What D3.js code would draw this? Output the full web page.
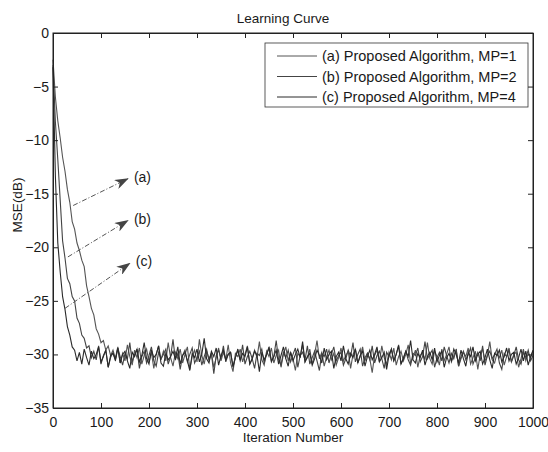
<!DOCTYPE html>
<html>
<head>
<meta charset="utf-8">
<script src="https://cdn.jsdelivr.net/npm/d3@7"></script>
<style>
  body { margin: 0; background: #fff; }
  text { font-family: "Liberation Sans", Arial, sans-serif; fill: #1a1a1a; }
</style>
</head>
<body>
<div id="chart"></div>
<script>
const step = 5;

const seriesA = [
  -2.5, -6.0, -8.2, -9.8, -11.6, -12.9, -14.6, -15.8, -17.6, -18.3, -19.6, -20.3, -21.2, -21.8, -23.6, -24.6, -25.7, -26.3, -27.6, -28.1,
  -28.9, -28.7, -29.6, -29.2, -30.1, -29.6,
  -30.4, -29.3, -30.8, -29.9, -30.6, -29.1, -30.2, -31.0, -29.6, -30.3, -29.4, -30.9, -30.1, -29.5, -30.7, -29.8, -31.3, -30.0, -29.2, -30.5,
  -29.7, -30.6, -28.9, -30.3, -31.1, -29.8, -30.4, -29.5, -30.8, -30.0, -29.3, -31.4, -30.2, -29.6, -30.7, -28.6, -30.1, -30.9, -29.7, -30.4,
  -29.9, -31.2, -30.3, -29.4, -30.6, -29.8, -30.5, -29.1, -30.8, -31.6, -29.9, -30.2, -29.5, -30.7, -30.0, -29.2, -30.9, -30.4, -29.6, -30.3,
  -28.8, -30.5, -31.0, -29.7, -30.2, -29.4, -30.8, -30.1, -29.6, -31.2, -30.0, -29.3, -30.6, -29.8, -30.4, -31.5, -29.9, -30.2, -29.1, -30.7,
  -30.3, -29.5, -30.9, -30.0, -28.7, -30.4, -29.8, -31.1, -30.2, -29.6, -30.5, -29.9, -31.0, -30.3, -29.4, -30.6, -30.1, -29.7, -31.3, -30.0,
  -29.5, -30.8, -30.2, -29.3, -30.6, -29.9, -30.4, -31.7, -30.1, -29.6, -30.7, -29.2, -30.3, -30.9, -29.8, -30.5, -29.4, -31.0, -30.2, -29.7,
  -30.6, -30.0, -29.1, -30.8, -30.3, -29.6, -31.2, -30.1, -29.8, -30.5, -28.9, -30.4, -30.9, -29.7, -30.2, -31.0, -29.5, -30.6, -30.0, -29.3,
  -30.7, -30.1, -29.6, -31.1, -30.4, -29.8, -30.2, -29.4, -30.9, -30.3, -29.7, -31.4, -30.0, -29.5, -30.6, -30.1, -28.8, -30.5, -30.8, -29.9,
  -30.3, -29.6, -31.0, -30.2, -29.4, -30.7, -30.0, -29.8, -31.2, -30.4, -29.5, -30.6, -29.9, -30.3, -29.7
];

const seriesB = [
  -3.0, -8.3, -11.8, -15.6, -19.4, -21.0, -22.9, -23.4, -24.6, -25.0, -26.6, -27.1, -28.2, -28.5, -29.4, -29.2, -30.3,
  -29.7, -30.5, -29.2, -30.9, -30.1, -29.6, -31.2, -30.3, -29.8, -30.6, -29.4, -30.2, -31.0, -29.9, -30.4, -28.9, -30.7, -30.0, -29.5, -31.3,
  -30.2, -29.7, -30.8, -30.1, -29.3, -30.6, -31.1, -29.8, -30.4, -30.0, -29.5, -30.9, -30.2, -28.6, -30.5, -29.9, -31.4, -30.1, -29.6, -30.7,
  -30.0, -29.4, -30.8, -30.3, -29.7, -31.0, -30.2, -29.5, -30.6, -29.9, -31.8, -30.1, -29.6, -30.4, -29.2, -30.7, -30.0, -29.8, -31.1, -30.3,
  -29.6, -30.5, -29.1, -30.9, -30.2, -29.7, -30.4, -31.3, -29.9, -30.1, -29.5, -30.8, -30.0, -29.3, -30.6, -30.2, -28.7, -30.5, -31.0, -29.8,
  -30.3, -29.6, -30.7, -30.0, -29.4, -31.2, -30.1, -29.8, -30.5, -29.2, -30.9, -30.3, -29.7, -30.6, -31.5, -29.9, -30.2, -29.5, -30.8, -30.0,
  -29.3, -30.6, -30.1, -29.8, -31.0, -30.4, -29.6, -30.2, -28.9, -30.7, -30.0, -29.5, -31.1, -30.3, -29.9, -30.5, -29.2, -30.8, -30.1, -29.7,
  -30.4, -31.3, -29.8, -30.2, -29.5, -30.6, -30.0, -29.1, -30.9, -30.3, -29.7, -30.5, -31.0, -29.9, -30.1, -29.4, -30.7, -30.2, -28.8, -30.4,
  -30.0, -29.6, -31.2, -30.3, -29.8, -30.6, -29.3, -30.1, -30.8, -29.9, -30.4, -29.5, -31.1, -30.2, -29.7, -30.5, -30.0, -29.4, -30.9, -30.3,
  -29.8, -30.6, -29.2, -31.0, -30.1, -29.7, -30.4, -30.0, -29.5, -30.8, -31.4, -29.9, -30.2, -29.6, -30.7, -30.1, -29.3, -30.5, -30.9, -29.8,
  -30.3, -29.6, -30.6, -30.1
];

const seriesC = [
  -3.2, -13.4, -19.6, -22.3, -24.6, -25.8, -27.4, -28.2, -29.3, -29.6, -30.6,
  -29.8, -30.9, -29.5, -30.3, -31.0, -29.7, -30.4, -30.0, -29.3, -30.7, -30.2, -29.6, -31.2, -30.1, -29.9, -30.5, -29.4, -30.8, -30.0, -29.7,
  -30.6, -31.3, -29.8, -30.2, -29.5, -30.7, -30.1, -28.9, -30.4, -30.9, -29.6, -30.3, -30.0, -29.2, -30.8, -31.1, -29.9, -30.5, -30.2, -29.7,
  -30.4, -29.3, -30.9, -30.1, -29.8, -30.6, -31.5, -29.9, -30.3, -29.5, -30.7, -30.0, -28.5, -30.4, -30.8, -29.7, -30.2, -29.4, -31.0, -30.1,
  -29.6, -30.5, -30.0, -29.8, -31.2, -30.3, -29.5, -30.6, -29.9, -30.2, -29.3, -30.9, -30.4, -29.7, -30.1, -31.6, -29.8, -30.5, -30.0, -29.4,
  -30.7, -30.2, -29.6, -30.9, -30.1, -29.3, -30.4, -31.1, -29.8, -30.6, -30.0, -29.5, -30.3, -28.8, -30.7, -30.2, -29.9, -31.0, -30.4, -29.6,
  -30.1, -30.8, -29.4, -30.5, -30.0, -29.7, -31.3, -30.2, -29.8, -30.6, -29.2, -30.4, -30.9, -29.9, -30.3, -29.5, -30.8, -30.1, -29.7, -31.1,
  -30.2, -29.6, -30.5, -30.0, -29.3, -30.7, -30.3, -29.8, -31.4, -30.1, -29.5, -30.6, -30.0, -29.2, -30.9, -30.4, -29.7, -30.2, -28.7, -30.5,
  -30.8, -29.9, -30.3, -29.6, -31.0, -30.2, -29.8, -30.5, -29.4, -30.7, -30.1, -29.7, -31.2, -30.3, -29.9, -30.6, -29.5, -30.0, -30.8, -29.6,
  -30.4, -31.1, -29.8, -30.2, -29.3, -30.6, -30.0, -29.7, -30.9, -30.3, -29.5, -30.5, -31.3, -29.9, -30.1, -29.6, -30.7, -30.2, -29.4, -30.6,
  -30.0, -29.8, -30.9, -30.3, -29.5, -30.6, -29.7, -31.0, -30.2, -29.6
];

const legendLabels = [
  '(a) Proposed Algorithm, MP=1',
  '(b) Proposed Algorithm, MP=2',
  '(c) Proposed Algorithm, MP=4'
];
const xTicks = d3.range(0, 1001, 100);
const yTicks = [0, -5, -10, -15, -20, -25, -30, -35];

// arrows pointing at the curves: [label, from iter, from dB, to iter, to dB]
const annotations = [
  ['(a)', 42, -16.1, 156, -13.6],
  ['(b)', 31, -20.9, 156, -17.5],
  ['(c)', 25, -25.7, 160, -21.5]
];

const width = 548, height = 452;
const margin = {top: 33, right: 15, bottom: 44, left: 53};
const innerW = width - margin.left - margin.right;
const innerH = height - margin.top - margin.bottom;
const font = '"Liberation Sans", Arial, sans-serif';

const svg = d3.select('#chart').append('svg')
    .attr('width', width)
    .attr('height', height);

const g = svg.append('g')
    .attr('transform', `translate(${margin.left},${margin.top})`);

const x = d3.scaleLinear().domain([0, 1000]).range([0, innerW]);
const y = d3.scaleLinear().domain([-35, 0]).range([innerH, 0]);

// arrow head marker
svg.append('defs').append('marker')
    .attr('id', 'head')
    .attr('viewBox', '0 0 14 10')
    .attr('refX', 13)
    .attr('refY', 5)
    .attr('markerWidth', 14)
    .attr('markerHeight', 10)
    .attr('markerUnits', 'userSpaceOnUse')
    .attr('orient', 'auto')
    .append('path')
    .attr('d', 'M0,0 L14,5 L0,10 L4,5 Z')
    .attr('fill', '#444');

// curves
const line = d3.line()
    .x((d, i) => x(i * step))
    .y(d => y(d));

const series = [seriesA, seriesB, seriesC];
const colors = ['#555', '#444', '#2a2a2a'];

g.selectAll('.curve')
    .data(series)
    .enter()
    .append('path')
    .attr('class', 'curve')
    .attr('d', line)
    .attr('fill', 'none')
    .attr('stroke', (d, i) => colors[i])
    .attr('stroke-width', 1.1);

// axes: ticks inside on all four sides, MATLAB style
const tickLen = 5;
g.append('g')
    .attr('transform', `translate(0,${innerH})`)
    .call(d3.axisBottom(x).tickValues(xTicks).tickFormat(d3.format('d'))
        .tickSizeInner(-tickLen).tickSizeOuter(0).tickPadding(9));
g.append('g')
    .call(d3.axisTop(x).tickValues(xTicks).tickSizeInner(-tickLen).tickSizeOuter(0).tickFormat(''));
g.append('g')
    .call(d3.axisLeft(y).tickValues(yTicks).tickSizeInner(-tickLen).tickSizeOuter(0).tickPadding(4));
g.append('g')
    .attr('transform', `translate(${innerW},0)`)
    .call(d3.axisRight(y).tickValues(yTicks).tickSizeInner(-tickLen).tickSizeOuter(0).tickFormat(''));

g.selectAll('.domain').attr('stroke', '#222');
g.selectAll('.tick line').attr('stroke', '#222');
g.selectAll('.tick text')
    .attr('font-size', '14px')
    .style('font-family', font)
    .attr('fill', '#1a1a1a');

// box frame
g.append('rect')
    .attr('width', innerW)
    .attr('height', innerH)
    .attr('fill', 'none')
    .attr('stroke', '#222')
    .attr('stroke-width', 1);

// annotation arrows
const ann = g.selectAll('.ann')
    .data(annotations)
    .enter()
    .append('g')
    .attr('class', 'ann');

ann.append('line')
    .attr('x1', d => x(d[1]))
    .attr('y1', d => y(d[2]))
    .attr('x2', d => x(d[3]))
    .attr('y2', d => y(d[4]))
    .attr('stroke', '#555')
    .attr('stroke-width', 1)
    .attr('stroke-dasharray', '5,2,1,2')
    .attr('marker-end', 'url(#head)');

ann.append('text')
    .attr('x', d => x(d[3]) + 6)
    .attr('y', d => y(d[4]) + 3)
    .attr('font-size', '14px')
    .text(d => d[0]);

// legend
const legend = g.append('g')
    .attr('transform', `translate(${265 - margin.left},${43 - margin.top})`);

legend.append('rect')
    .attr('width', 263)
    .attr('height', 64)
    .attr('fill', '#fff')
    .attr('stroke', '#333')
    .attr('stroke-width', 0.8);

const items = legend.selectAll('.item')
    .data(legendLabels)
    .enter()
    .append('g')
    .attr('class', 'item')
    .attr('transform', (d, i) => `translate(0,${13 + i * 20.5})`);

items.append('line')
    .attr('x1', 12)
    .attr('x2', 52)
    .attr('stroke', (d, i) => colors[i])
    .attr('stroke-width', 1);

items.append('text')
    .attr('x', 57)
    .attr('y', 5)
    .attr('font-size', '14.5px')
    .text(d => d);

// title and axis labels
svg.append('text')
    .attr('x', 283)
    .attr('y', 23)
    .attr('text-anchor', 'middle')
    .attr('font-size', '13.5px')
    .text('Learning Curve');

svg.append('text')
    .attr('x', 293)
    .attr('y', 442)
    .attr('text-anchor', 'middle')
    .attr('font-size', '13.5px')
    .text('Iteration Number');

svg.append('text')
    .attr('transform', 'translate(22,205) rotate(-90)')
    .attr('text-anchor', 'middle')
    .attr('font-size', '13.5px')
    .text('MSE(dB)');
</script>
</body>
</html>
